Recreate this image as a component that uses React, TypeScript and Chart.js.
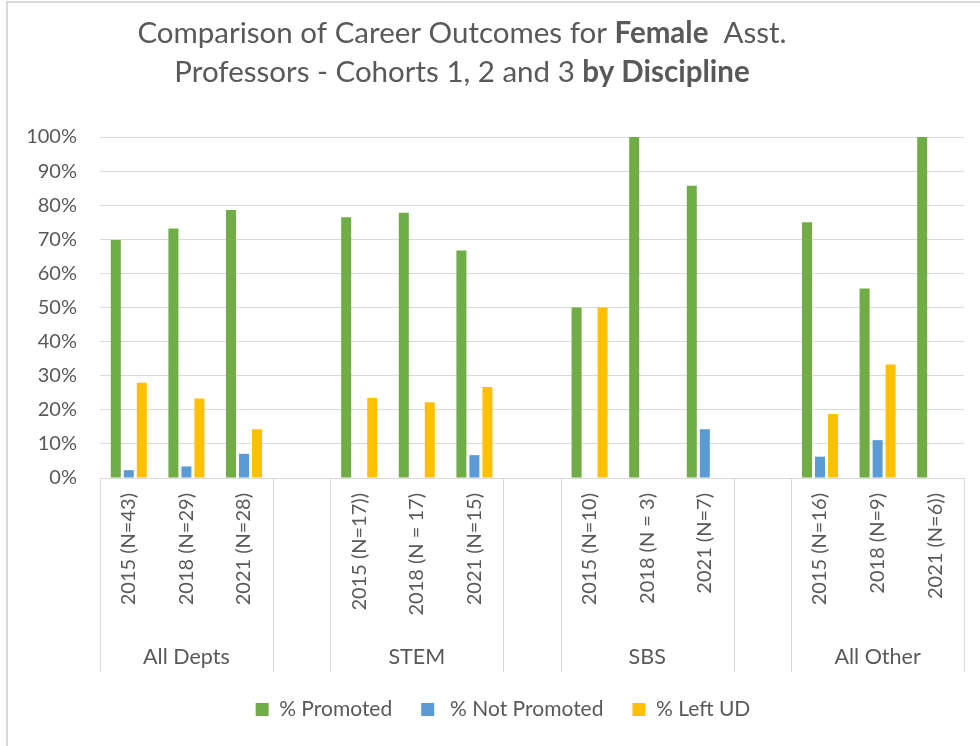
import React, { useEffect, useRef } from "react";
import { Chart, registerables } from "chart.js";

Chart.register(...registerables);

const FONT = "Lato, 'Open Sans', sans-serif";
const TEXT = "#595959";
const GRID = "#D9D9D9";

const categories = [
  "2015 (N=43)", "2018 (N=29)", "2021 (N=28)", "",
  "2015 (N=17))", "2018 (N = 17)", "2021 (N=15)", "",
  "2015 (N=10)", "2018 (N = 3)", "2021 (N=7)", "",
  "2015 (N=16)", "2018 (N=9)", "2021 (N=6))",
];
const groups = ["All Depts", "STEM", "SBS", "All Other"];

const promoted = [69.8, 73.2, 78.6, null, 76.5, 77.8, 66.7, null, 50, 100, 85.7, null, 75, 55.6, 100];
const notPromoted = [2.3, 3.4, 7.1, null, 0, 0, 6.7, null, 0, 0, 14.3, null, 6.25, 11.1, 0];
const leftUD = [27.9, 23.3, 14.3, null, 23.5, 22.2, 26.7, null, 50, 0, 0, null, 18.75, 33.3, 0];
const yTicks = [0, 10, 20, 30, 40, 50, 60, 70, 80, 90, 100];
const seriesNames = ["% Promoted", " % Not Promoted", "% Left UD"];

const titleLines: [string, boolean][][] = [
  [["Comparison of Career Outcomes for ", false], ["Female", true], ["  Asst.", false]],
  [["Professors - Cohorts 1, 2 and 3 ", false], ["by Discipline", true]],
];

const richTitle = {
  id: "richTitle",
  afterDraw(chart: any) {
    const ctx = chart.ctx;
    ctx.save();
    ctx.fillStyle = TEXT;
    ctx.textBaseline = "middle";
    ctx.textAlign = "left";
    const size = 29.5;
    const ys = [33, 72];
    titleLines.forEach((line, li) => {
      let total = 0;
      line.forEach(([t, b]) => {
        ctx.font = `${b ? "bold " : ""}${size}px ${FONT}`;
        total += ctx.measureText(t).width;
      });
      let x = 462 - total / 2;
      line.forEach(([t, b]) => {
        ctx.font = `${b ? "bold " : ""}${size}px ${FONT}`;
        ctx.fillText(t, x, ys[li]);
        x += ctx.measureText(t).width;
      });
    });
    ctx.restore();
  },
};

const legendShift = {
  id: "legendShift",
  afterLayout(chart: any) {
    if (chart.legend) {
      chart.legend.left += 21;
      chart.legend.right += 21;
    }
  },
};

const groupAxis = {
  id: "groupAxis",
  afterDraw(chart: any) {
    const ctx = chart.ctx;
    const xs = chart.scales.x;
    const area = chart.chartArea;
    const n = categories.length;
    const px = (i: number) => xs.getPixelForValue(i);
    const bounds: number[] = [area.left];
    for (let i = 0; i < n - 1; i++) {
      if (categories[i] === "" || categories[i + 1] === "") bounds.push((px(i) + px(i + 1)) / 2);
    }
    bounds.push(area.right);
    ctx.save();
    ctx.strokeStyle = GRID;
    ctx.lineWidth = 1;
    bounds.forEach((b) => {
      const x = Math.round(b) + 0.5;
      ctx.beginPath();
      ctx.moveTo(x, area.bottom);
      ctx.lineTo(x, area.bottom + 194);
      ctx.stroke();
    });
    ctx.fillStyle = TEXT;
    ctx.font = `21.5px ${FONT}`;
    ctx.textAlign = "center";
    ctx.textBaseline = "middle";
    groups.forEach((g, gi) => {
      const mid = gi * 4 + 1;
      ctx.fillText(g, px(mid), area.bottom + 179);
    });
    ctx.restore();
  },
};

export default function App() {
  const ref = useRef<HTMLCanvasElement>(null);
  useEffect(() => {
    if (!ref.current) return;
    const common = { categoryPercentage: 0.677, barPercentage: 0.77, borderWidth: 0 };
    const colors = ["#70AD47", "#5B9BD5", "#FFC000"];
    const values = [promoted, notPromoted, leftUD];
    const chart = new Chart(ref.current, {
      type: "bar",
      data: {
        labels: categories,
        datasets: values.map((d, i) => ({ label: seriesNames[i], data: d, backgroundColor: colors[i], ...common })),
      },
      options: {
        responsive: false,
        animation: false,
        layout: { padding: { top: 137, right: 16, left: 0, bottom: 16 } },
        plugins: {
          title: { display: false },
          tooltip: { enabled: false },
          legend: {
            position: "bottom",
            labels: {
              boxWidth: 13,
              boxHeight: 13,
              padding: 29,
              color: TEXT,
              font: { family: FONT, size: 21 },
            },
          },
        },
        scales: {
          x: {
            grid: { display: false, drawTicks: false },
            border: { display: true, color: GRID },
            ticks: {
              autoSkip: false,
              maxRotation: 90,
              minRotation: 90,
              padding: 15,
              color: TEXT,
              font: { family: FONT, size: 20 },
            },
            afterFit: (s: any) => { s.height = 192; },
          },
          y: {
            min: 0,
            max: 100,
            afterBuildTicks: (s: any) => { s.ticks = yTicks.map((v) => ({ value: v })); },
            grid: { color: GRID, lineWidth: 1, drawTicks: false },
            border: { display: false },
            ticks: {
              padding: 23,
              color: TEXT,
              font: { family: FONT, size: 20 },
              callback: (v: any) => `${v}%`,
            },
            afterFit: (s: any) => { s.width = 100; },
          },
        },
      },
      plugins: [richTitle, groupAxis, legendShift],
    });
    return () => chart.destroy();
  }, []);
  return (
    <div style={{ position: "absolute", left: 0, top: 0, width: 980, height: 746, background: "#fff" }}>
      <canvas ref={ref} width={980} height={746} style={{ display: "block" }} />
      <div style={{ position: "absolute", left: 6, top: 1, width: 974, height: 745, borderLeft: `2px solid ${GRID}`, borderTop: `2px solid ${GRID}`, boxSizing: "border-box", pointerEvents: "none" }} />
    </div>
  );
}
